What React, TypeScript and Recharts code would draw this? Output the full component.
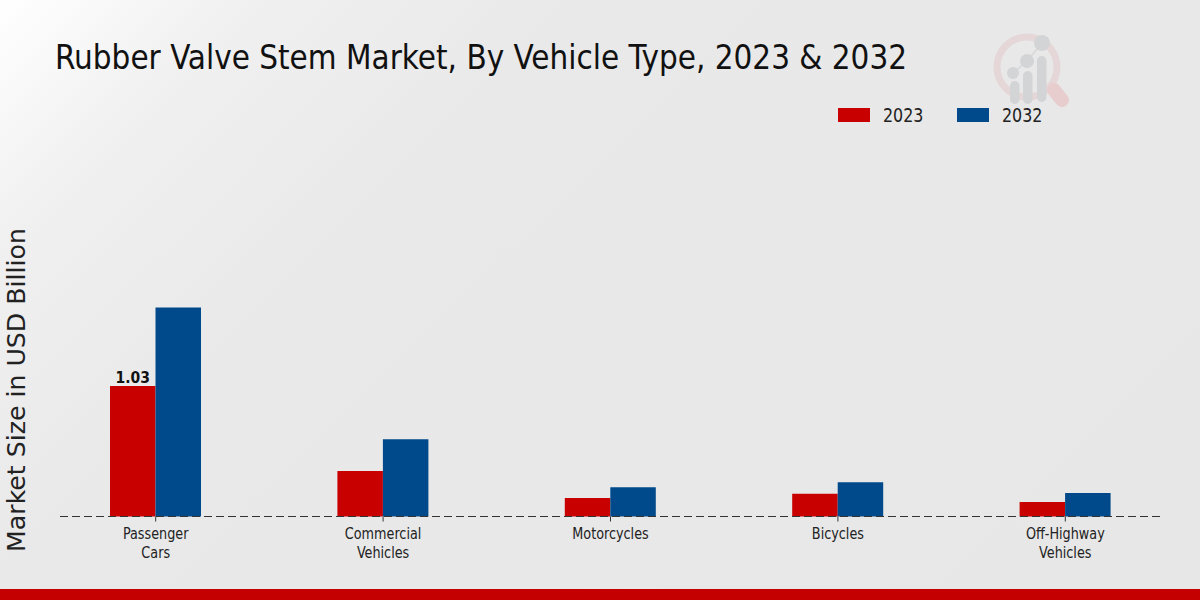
import React from "react";
import { BarChart, Bar, XAxis, YAxis, Legend, LabelList } from "recharts";

const categories = ["Passenger Cars", "Commercial Vehicles", "Motorcycles", "Bicycles", "Off-Highway Vehicles"];
const values2023 = [1.03, 0.36, 0.146, 0.18, 0.115];
const values2032 = [1.65, 0.61, 0.23, 0.27, 0.185];
const labels2023 = ["1.03", "", "", "", ""];
const tickLines: Record<string, string[]> = {
  "Passenger Cars": ["Passenger", "Cars"],
  "Commercial Vehicles": ["Commercial", "Vehicles"],
  "Motorcycles": ["Motorcycles"],
  "Bicycles": ["Bicycles"],
  "Off-Highway Vehicles": ["Off-Highway", "Vehicles"],
};
const data = categories.map((c, i) => ({ name: c, y2023: values2023[i], y2032: values2032[i], label: labels2023[i] }));

const COND = { fontFamily: "'DejaVu Sans Condensed','DejaVu Sans'", fontStretch: "condensed" as const };
const RED = "#c80000";
const BLUE = "#004a8b";

function Tick(props: any) {
  const { x, y, payload } = props;
  const lines = tickLines[payload.value] ?? [payload.value];
  return (
    <g transform={`translate(${x} ${y}) scale(0.95 1)`}>
      {lines.map((l, i) => (
        <text key={l} x={0} y={16 + i * 19} textAnchor="middle" fontSize={15} fill="#222" style={COND}>{l}</text>
      ))}
    </g>
  );
}

function LegendContent(props: any) {
  const { payload } = props;
  return (
    <div style={{ display: "flex", ...COND, fontSize: 19, color: "#222" }}>
      {(payload ?? []).map((p: any) => (
        <div key={p.value} style={{ display: "flex", alignItems: "center", width: 119, height: 24 }}>
          <span style={{ display: "inline-block", width: 32, height: 14, background: p.color, marginRight: 13 }} />
          <span style={{ display: "inline-block", transform: "scaleX(0.93)", transformOrigin: "left center" }}>{p.value}</span>
        </div>
      ))}
    </div>
  );
}

export default function App() {
  return (
    <div style={{ position: "absolute", left: 0, top: 0, width: 1200, height: 600, overflow: "hidden",
      background: "linear-gradient(135deg,#ffffff 0%,#f0f0f1 14%,#e9e9ea 32%,#e7e7e7 100%)" }}>
      <svg width={1200} height={600} style={{ position: "absolute", left: 0, top: 0 }}>
        <circle cx={1027} cy={67} r={30} fill="none" stroke="#e5d6d7" strokeWidth={7} />
        <line x1={1054} y1={90} x2={1062} y2={100} stroke="#e8cdcf" strokeWidth={14} strokeLinecap="round" />
        <polyline points="1013,73 1027,61 1042,43" fill="none" stroke="#d6d7d9" strokeWidth={1.5} />
        <circle cx={1013} cy={73} r={6} fill="#d3d4d6" />
        <circle cx={1027} cy={61} r={7} fill="#d3d4d6" />
        <circle cx={1042} cy={43} r={8} fill="#d3d4d6" />
        <rect x={1010} y={81} width={9.5} height={23} rx={4.7} fill="#d3d4d6" />
        <rect x={1023} y={71} width={9.5} height={33} rx={4.7} fill="#d3d4d6" />
        <rect x={1037} y={56} width={9.5} height={46} rx={4.7} fill="#d3d4d6" />
      </svg>
      <div style={{ position: "absolute", left: 55, top: 36, fontSize: 34, lineHeight: "42px", color: "#111", whiteSpace: "nowrap", transform: "scaleX(0.967)", transformOrigin: "left center", ...COND }}>
        Rubber Valve Stem Market, By Vehicle Type, 2023 &amp; 2032
      </div>
      <BarChart width={1200} height={600} data={data} barGap={0} barSize={45.5}
        margin={{ top: 112.5, right: 40, bottom: 0, left: 60 }} style={{ position: "absolute", left: 0, top: 0 }}>
        <XAxis dataKey="name" interval={0} padding={{ left: -18, right: -19 }} tick={<Tick />} tickLine={{ stroke: "#333" }} tickSize={5}
          axisLine={{ stroke: "#333", strokeDasharray: "8 4", strokeWidth: 1.2 }} height={83.5} />
        <YAxis hide domain={[0, 3]} />
        <Legend content={<LegendContent />} layout="horizontal" verticalAlign="top" align="left"
          wrapperStyle={{ position: "absolute", left: 838, top: 103, width: 260 }} />
        <Bar dataKey="y2023" name="2023" fill={RED} isAnimationActive={false}>
          <LabelList dataKey="label" position="top" offset={3} fill="#111" fontSize={15.5} fontWeight="bold" fontFamily="'DejaVu Sans Condensed','DejaVu Sans'" style={{ fontStretch: "condensed" }} />
        </Bar>
        <Bar dataKey="y2032" name="2032" fill={BLUE} isAnimationActive={false} />
        <text x={18} y={390} transform="rotate(-90 18 390)" textAnchor="middle" dominantBaseline="middle" fontSize={25.2} fill="#222" fontFamily="'DejaVu Sans'">Market Size in USD Billion</text>
      </BarChart>
      <div style={{ position: "absolute", left: 0, top: 589, width: 1200, height: 11, background: "#c40000" }} />
    </div>
  );
}
